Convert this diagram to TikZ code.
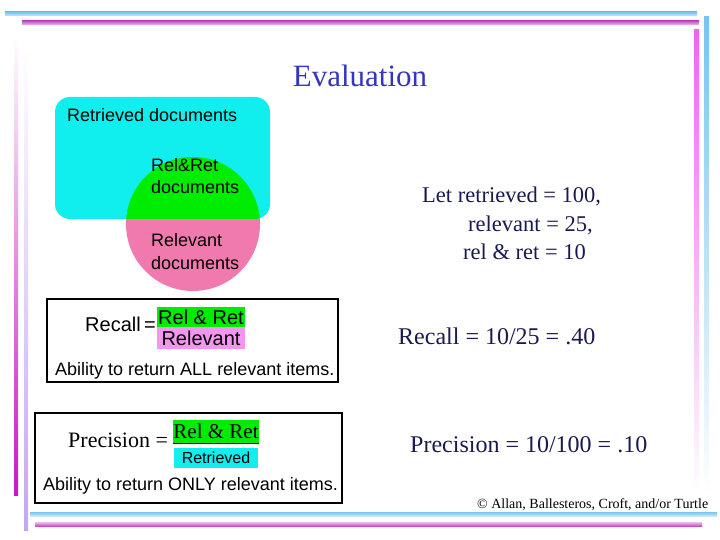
\documentclass[tikz,border=0pt]{standalone}
\usepackage{fontspec}
\setmainfont{Liberation Serif}
\setsansfont{Liberation Sans}
\definecolor{cyanc}{RGB}{17,238,238}
\definecolor{greenc}{RGB}{0,236,0}
\definecolor{pinkc}{RGB}{240,122,174}
\definecolor{violc}{RGB}{242,150,240}
\definecolor{navy}{RGB}{26,26,80}
\definecolor{titleblue}{RGB}{53,53,192}
\definecolor{lineblue}{RGB}{120,196,236}
\definecolor{linemag}{RGB}{196,80,196}
\definecolor{vmag}{RGB}{240,100,240}
\definecolor{lmag}{RGB}{200,24,192}
\definecolor{lavender}{RGB}{196,166,240}
\begin{document}
\begin{tikzpicture}[x=1pt,y=-1pt,
  sans/.style={font=\sffamily\fontsize{18}{20}\selectfont, inner sep=0pt},
  serifbig/.style={font=\fontsize{22.5}{26}\selectfont, text=navy, inner sep=0pt},
  serifres/.style={font=\fontsize{24}{28}\selectfont, text=navy, inner sep=0pt},
  fracbox/.style={inner sep=0pt, anchor=center},
  framebox/.style={draw=black, line width=2pt}]
\useasboundingbox (0,0) rectangle (720,540);
\fill[white] (0,0) rectangle (720,540);
% decorative lines
\shade[top color=lineblue, bottom color=lineblue!40] (5,12) rectangle (697,16);
\shade[top color=linemag, bottom color=linemag!35] (22,21) rectangle (699,25);
\shade[top color=vmag, bottom color=white] (694,30) rectangle (699,495);
\shade[top color=lineblue, bottom color=white] (704,17) rectangle (709,495);
\shade[top color=white, bottom color=lmag] (14,35) rectangle (18,495);
\shade[top color=white, bottom color=lavender] (24,50) rectangle (28,530);
\shade[top color=lineblue, bottom color=lineblue!40] (30,512) rectangle (717,516);
\shade[top color=linemag!35, bottom color=linemag] (35,522) rectangle (702,526);
% title
\node[font=\fontsize{31}{34}\selectfont, text=titleblue, inner sep=0pt, anchor=base] (title) at (360,87) {Evaluation};
% Venn diagram
\fill[pinkc] (193,224) circle[radius=67pt];
\fill[cyanc, rounded corners=15pt] (55,97) rectangle (270,219);
\begin{scope}
\clip[rounded corners=15pt] (55,97) rectangle (270,219);
\fill[greenc] (193,224) circle[radius=67pt];
\end{scope}
\node[sans, anchor=base west] (retdocs) at (67,122) {Retrieved documents};
\node[sans, anchor=base west] (relret1) at (151,172) {Rel\&Ret};
\node[sans, anchor=base west] (relret2) at (151,194) {documents};
\node[sans, anchor=base west] (rel1) at (151,247) {Relevant};
\node[sans, anchor=base west] (rel2) at (151,269) {documents};
% Recall box
\draw[framebox] (47,299) rectangle (338,382);
\node[font=\sffamily\fontsize{20}{22}\selectfont, inner sep=0pt, anchor=base west] (recall) at (85,331) {Recall\,=};
\node[fracbox, fill=greenc, minimum width=88pt, minimum height=20pt, font=\sffamily\fontsize{20}{22}\selectfont] (rrnum) at (201,317) {Rel \& Ret};
\node[fracbox, fill=violc, minimum width=88pt, minimum height=22pt, font=\sffamily\fontsize{20}{22}\selectfont] (rrden) at (201,338) {Relevant};
\node[sans, anchor=base west] (allitems) at (55,375) {Ability to return ALL relevant items.};
% Precision box
\draw[framebox] (35,413) rectangle (342,503);
\node[font=\fontsize{22}{24}\selectfont, inner sep=0pt, anchor=base west] (prec) at (68,447) {Precision =};
\node[fracbox, fill=greenc, minimum width=84pt, minimum height=23pt, font=\fontsize{21}{23}\selectfont] (prnum) at (216,431.5) {Rel \& Ret};
\draw[line width=0.8pt] (prnum.south west) -- (prnum.south east);
\node[fracbox, fill=cyanc, minimum width=84pt, minimum height=20pt, font=\sffamily\fontsize{16}{18}\selectfont] (prden) at (216,458) {Retrieved};
\node[sans, anchor=base west] (onlyitems) at (43,490) {Ability to return ONLY relevant items.};
% right texts
\node[serifbig, anchor=base west] (l1) at (422,203) {Let retrieved = 100,};
\node[serifbig, anchor=base west] (l2) at (468,232) {relevant = 25,};
\node[serifbig, anchor=base west] (l3) at (463,259) {rel \& ret = 10};
\node[serifres, anchor=base west] (rec) at (398,344) {Recall = 10/25 = .40};
\node[serifres, anchor=base west] (pre) at (410,452) {Precision = 10/100 = .10};
\node[font=\fontsize{14}{16}\selectfont, inner sep=0pt, anchor=base west] (copy) at (477,508) {© Allan, Ballesteros, Croft, and/or Turtle};
\end{tikzpicture}
\end{document}
